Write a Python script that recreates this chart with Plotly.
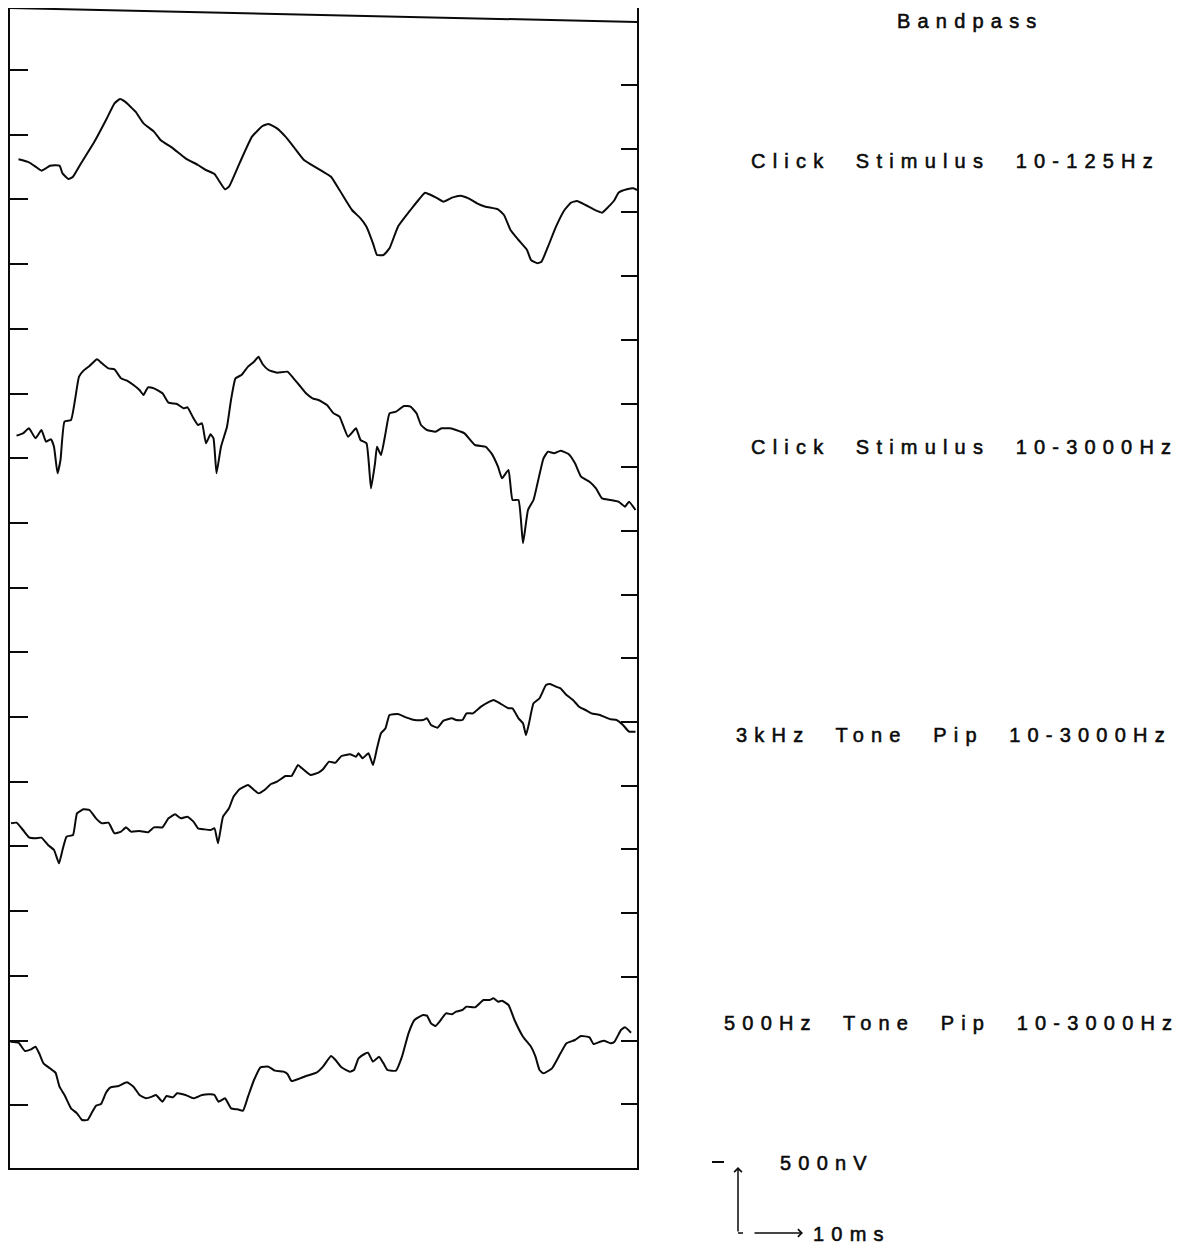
import plotly.graph_objects as go

# ---------------- data (time in ms, amplitude in nV relative to each trace baseline) -------------
labels = ["Click  Stimulus  10-125Hz", "Click  Stimulus  10-3000Hz",
          "3kHz  Tone  Pip  10-3000Hz", "500Hz  Tone  Pip  10-3000Hz"]
baseline_nv = [7560, 5510, 2585, 947.5]

t_click_lp = [1.3, 3.4, 4.7, 5.9, 6.8, 7.6, 9.5, 10.1, 11.3, 12.2, 13.8, 16.3, 18.8, 20.5, 21.6, 22.6,
              24.7, 26.3, 28.4, 29.7, 32.2, 34.7, 37.2, 38.8, 40.5, 41.3, 42.6, 43.4, 45.5, 48.0, 50.1,
              51.3, 53.0, 54.7, 56.3, 58.4, 60.5, 62.2, 63.8, 65.5, 68.0, 69.7, 70.9, 72.2, 73.0, 74.3,
              75.5, 77.2, 79.7, 81.3, 82.6, 83.8, 85.1, 86.3, 88.0, 89.7, 91.3, 93.0, 94.7, 97.2, 98.4,
              99.7, 101.3, 103.0, 103.8, 105.1, 105.9, 107.2, 108.8, 110.5, 111.8, 113.0, 114.7, 116.3,
              118.0, 119.3, 120.5, 121.3, 123.0, 124.3, 125.0]
v_click_lp = [5, -17.5, -50, -80, -62.5, -42.5, -42.5, -100, -142.5, -125, -25, 125, 300, 425, 457.5,
              437.5, 362.5, 275, 212.5, 150, 87.5, 12.5, -37.5, -75, -105, -150, -220, -200, -25, 175,
              255, 270, 237.5, 175, 100, 0, -50, -87.5, -125, -225, -375, -437.5, -500, -625, -712.5,
              -712.5, -662.5, -500, -375, -300, -245, -262.5, -287.5, -312.5, -282.5, -267.5, -287.5,
              -325, -350, -370, -412.5, -525, -600, -675, -750, -775, -762.5, -650, -500, -375, -320,
              -307.5, -337.5, -370, -395, -350, -300, -245, -220, -212.5, -225]

t_click_wb = [0.9, 2.2, 3.4, 4.7, 5.9, 6.8, 7.8, 8.4, 9.1, 9.7, 10.5, 11.8, 12.6, 13.4, 14.3, 15.5, 17.0,
              18.0, 19.3, 20.5, 21.8, 23.0, 24.3, 25.5, 26.3, 27.2, 28.4, 30.1, 31.3, 33.0, 34.3, 35.1,
              36.3, 37.2, 38.0, 38.8, 39.7, 40.3, 40.9, 41.8, 43.0, 43.8, 44.7, 45.9, 47.2, 48.4, 49.3,
              50.1, 51.3, 53.0, 55.1, 56.3, 57.6, 58.8, 60.1, 61.3, 63.0, 64.3, 65.5, 67.2, 68.8, 69.7,
              70.9, 71.8, 72.6, 73.0, 73.8, 74.7, 75.5, 76.8, 78.4, 79.7, 80.9, 81.8, 83.0, 84.7, 85.9,
              87.6, 88.8, 90.5, 92.6, 94.7, 95.9, 97.2, 98.0, 99.3, 100.1, 101.3, 102.2, 103.2, 104.3,
              105.1, 106.3, 107.2, 108.4, 109.7, 111.3, 112.6, 113.8, 115.5, 116.8, 118.0, 119.7, 121.3,
              122.6, 123.4, 124.7]
v_click_wb = [-17.5, 0, 37.5, -37.5, 25, -62.5, -45, -100, -300, -200, 87.5, 100, 250, 425, 470, 505,
              555, 525, 487.5, 480, 412.5, 395, 362.5, 325, 287.5, 345, 337.5, 300, 230, 220, 187.5, 195,
              112.5, 62.5, 75, -75, -7.5, -37.5, -300, -100, 50, 250, 412.5, 437.5, 500, 537.5, 575, 520,
              475, 455, 462.5, 412.5, 355, 300, 262.5, 250, 212.5, 150, 125, -25, 37.5, -50, -75, -412.5,
              -225, -100, -162.5, 0, 150, 162.5, 205, 200, 150, 62.5, 25, 12.5, 37.5, 37.5, 25, 0, -87.5,
              -100, -150, -250, -337.5, -275, -500, -500, -825, -575, -500, -375, -187.5, -137.5, -150,
              -130, -155, -225, -325, -362.5, -412.5, -487.5, -500, -512.5, -550, -512.5, -575]

t_tone3k = [-0.2, 0.9, 2.2, 3.4, 4.7, 5.9, 7.2, 8.4, 9.4, 10.1, 10.9, 12.2, 13.0, 14.3, 15.5, 16.8, 18.0,
            19.3, 20.5, 21.8, 22.8, 23.8, 25.5, 27.2, 28.4, 30.1, 31.3, 32.6, 33.8, 35.1, 36.3, 37.2,
            38.4, 39.7, 40.5, 41.2, 42.2, 43.4, 44.3, 45.5, 47.2, 48.4, 49.3, 50.5, 51.8, 53.0, 54.7,
            55.9, 57.2, 58.0, 59.7, 61.3, 62.2, 63.4, 64.7, 65.9, 67.6, 68.8, 69.3, 70.1, 71.3, 72.2,
            73.0, 73.8, 74.7, 75.5, 77.2, 78.8, 80.5, 82.2, 83.0, 83.8, 85.1, 86.3, 88.0, 88.8, 90.1,
            90.9, 92.2, 93.8, 95.5, 96.3, 97.6, 99.3, 100.1, 101.3, 102.2, 102.8, 103.4, 104.3, 105.5,
            106.8, 107.6, 108.8, 109.7, 110.9, 112.2, 113.4, 114.7, 115.9, 117.6, 118.4, 119.7, 120.9,
            122.2, 123.4, 124.7]
v_tone3k = [0, 5, -50, -105, -112.5, -107.5, -162.5, -200, -300, -200, -100, -87.5, 75, 105, 100, 37.5,
            0, 5, -75, -62.5, -30, -62.5, -57.5, -67.5, -30, -30, 37.5, 67.5, 37.5, 50, 12.5, -37.5,
            -45, -50, -37.5, -150, 50, 112.5, 200, 255, 287.5, 250, 225, 250, 295, 312.5, 355, 355,
            437.5, 412.5, 362.5, 380, 405, 462.5, 455, 505, 517.5, 500, 525, 487.5, 525, 437.5, 562.5,
            675, 712.5, 812.5, 820, 795, 775, 775, 787.5, 737.5, 717.5, 770, 787.5, 775, 775, 825, 825,
            875, 912.5, 925, 900, 862.5, 862.5, 787.5, 750, 662.5, 750, 900, 937.5, 1037.5, 1045, 1025,
            1012.5, 962.5, 925, 875, 850, 825, 812.5, 800, 780, 775, 737.5, 687.5, 687.5]

t_tone500 = [-0.3, 1.3, 2.6, 3.8, 4.7, 5.5, 6.3, 7.6, 8.7, 9.5, 10.5, 11.8, 13.0, 14.0, 15.1, 15.9, 16.8,
             17.8, 18.8, 19.7, 21.3, 23.0, 24.3, 25.5, 26.8, 28.0, 28.8, 30.1, 30.9, 32.2, 33.0, 34.7,
             36.3, 38.0, 39.7, 40.5, 41.3, 42.6, 43.8, 45.1, 46.2, 47.2, 48.4, 49.7, 51.3, 52.6, 54.3,
             55.1, 55.9, 57.6, 58.8, 60.9, 62.2, 63.8, 64.7, 65.9, 67.6, 68.4, 69.3, 70.5, 71.2, 72.2,
             73.4, 74.3, 75.1, 76.8, 78.0, 79.3, 80.5, 82.2, 83.0, 83.8, 84.7, 85.5, 86.8, 88.0, 88.8,
             90.1, 90.9, 92.6, 94.3, 95.5, 96.3, 97.2, 98.0, 99.3, 100.5, 102.2, 103.8, 104.7, 105.5,
             106.3, 108.0, 109.7, 110.9, 112.6, 113.8, 115.5, 116.3, 117.6, 118.4, 119.7, 120.5, 121.8,
             122.6, 123.8]
v_tone500 = [0, -7.5, -70, -57.5, -37.5, -92.5, -162.5, -200, -232.5, -337.5, -400, -500, -537.5, -587.5,
             -587.5, -537.5, -480, -467.5, -382.5, -342.5, -332.5, -305, -337.5, -400, -425, -412.5,
             -400, -450, -407.5, -417.5, -387.5, -400, -425, -400, -395, -400, -450, -425, -500, -507.5,
             -517.5, -412.5, -287.5, -192.5, -187.5, -217.5, -225, -242.5, -295, -275, -257.5, -232.5,
             -187.5, -107.5, -137.5, -192.5, -225, -212.5, -125, -92.5, -82.5, -150, -112.5, -162.5,
             -212.5, -217.5, -112.5, 62.5, 162.5, 200, 195, 137.5, 117.5, 150, 212.5, 205, 225, 237.5,
             262.5, 257.5, 312.5, 312.5, 325, 300, 307.5, 275, 162.5, 37.5, -37.5, -112.5, -212.5,
             -237.5, -200, -87.5, -12.5, 12.5, 42.5, 32.5, -17.5, 0, 7.5, -12.5, 0, 87.5, 107.5, 67.5]

times = [t_click_lp, t_click_wb, t_tone3k, t_tone500]
values = [v_click_lp, v_click_wb, v_tone3k, v_tone500]

scale_v_nv = 500
scale_t_ms = 10

# ---------------- layout geometry (page pixels; the page body has an 8px margin) ----------------
PAGE_W, PAGE_H = 1204, 1248
BODY = 8
W, H = PAGE_W - BODY, PAGE_H - BODY
L, R, T, B = 10, 637, 8, 1168          # plot area in page pixels
X_RANGE = [-0.4, 125.0]
Y_RANGE = [0, (B - T) * 7.5]


def px(x):
    return (x - L) / (R - L)


def py(y):
    return (B - y) / (B - T)


INK = "#0a0a0a"
FONT = "Liberation Sans, Arial, Helvetica, sans-serif"
FS = 20
LS = 7.2


def spaced(s, ls=LS):
    return (f'<span style="letter-spacing:{ls}px;stroke:{INK};stroke-width:0.55px">'
            f'{s}</span>')


fig = go.Figure()
for t, v, off in zip(times, values, baseline_nv):
    fig.add_trace(go.Scatter(x=t, y=[off + a for a in v], mode="lines",
                             line=dict(color=INK, width=2, shape="spline", smoothing=0.4),
                             hoverinfo="skip", showlegend=False))
# empty trace to activate right-hand tick axis
fig.add_trace(go.Scatter(x=[], y=[], yaxis="y2", showlegend=False))

left_ticks = [8235 - 485.25 * k for k in range(17)]
right_ticks = [8122.5 - 477.75 * k for k in range(17)]

fig.update_layout(
    width=W, height=H,
    margin=dict(l=L - BODY, r=W - (R - BODY), t=T - BODY, b=H - (B - BODY)),
    paper_bgcolor="white", plot_bgcolor="white",
    font=dict(family=FONT, size=FS, color=INK),
    xaxis=dict(range=X_RANGE, showgrid=False, zeroline=False, showticklabels=False,
               ticks="", showline=True, linecolor=INK, linewidth=2, mirror=False),
    yaxis=dict(range=Y_RANGE, showgrid=False, zeroline=False, showticklabels=False,
               ticks="inside", tickvals=left_ticks, ticklen=18, tickwidth=2, tickcolor=INK,
               showline=True, linecolor=INK, linewidth=2, mirror=False),
    yaxis2=dict(range=Y_RANGE, overlaying="y", side="right", showgrid=False, zeroline=False,
                showticklabels=False, ticks="inside", tickvals=right_ticks, ticklen=16,
                tickwidth=2, tickcolor=INK, showline=True, linecolor=INK, linewidth=2),
)

# slanted top edge of the frame
fig.add_shape(type="line", xref="paper", yref="paper", x0=0, y0=1, x1=1, y1=py(22),
              line=dict(color=INK, width=2))

# text labels
ann = [("Bandpass", 895, 21)]
label_pos = [(749, 161), (749, 447), (734, 735), (722, 1023)]
for lab, (lx, ly) in zip(labels, label_pos):
    ann.append((lab, lx, ly))
ann.append((f"{scale_v_nv}nV", 778, 1163))
ann.append((f"{scale_t_ms}ms", 811, 1234))
for txt, x, y in ann:
    fig.add_annotation(text=spaced(txt), x=px(x), y=py(y), xref="paper", yref="paper",
                       xanchor="left", yanchor="middle", showarrow=False,
                       font=dict(family=FONT, size=FS, color=INK))

# scale bar
bar_x, bar_top, bar_bot = 738, 1167, 1233
fig.add_annotation(x=px(bar_x), y=py(bar_top), xref="paper", yref="paper", text="",
                   showarrow=True, ax=0, ay=bar_bot - bar_top, arrowhead=4, arrowsize=1,
                   arrowwidth=1.5, arrowcolor=INK, standoff=0)
fig.add_annotation(x=px(803), y=py(bar_bot), xref="paper", yref="paper", text="",
                   showarrow=True, ax=-50, ay=0, arrowhead=4, arrowsize=1,
                   arrowwidth=1.5, arrowcolor=INK, standoff=0)
fig.add_shape(type="line", xref="paper", yref="paper", x0=px(bar_x), y0=py(bar_bot),
              x1=px(bar_x + 5), y1=py(bar_bot), line=dict(color=INK, width=1.5))
fig.add_shape(type="line", xref="paper", yref="paper", x0=px(712), y0=py(1162),
              x1=px(724), y1=py(1162), line=dict(color=INK, width=2))

fig.write_html("out.html")
